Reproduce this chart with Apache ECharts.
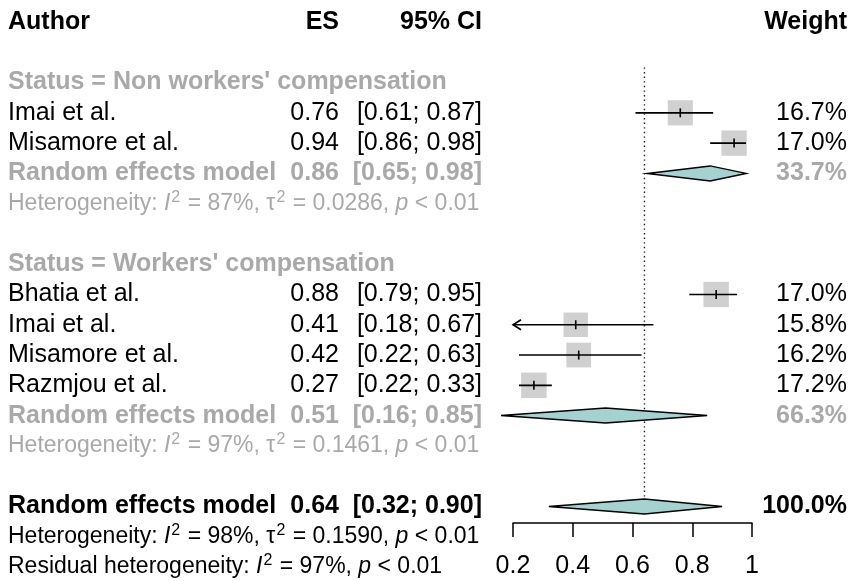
<!DOCTYPE html>
<html>
<head>
<meta charset="utf-8">
<script src="https://cdn.jsdelivr.net/npm/echarts@6/dist/echarts.min.js"></script>
<style>
  html, body { margin: 0; padding: 0; background: #ffffff; }
  #chart { width: 851px; height: 581px; }
</style>
</head>
<body>
<div id="chart"></div>
<script>
// ---- Data ----------------------------------------------------------------
const headers = ['Author', 'ES', '95% CI', 'Weight'];
const groupTitles = ["Status = Non workers' compensation", "Status = Workers' compensation"];

const studyNames  = ['Imai et al.', 'Misamore et al.', 'Bhatia et al.', 'Imai et al.', 'Misamore et al.', 'Razmjou et al.'];
const studyGroup  = [0, 0, 1, 1, 1, 1];
const studyES     = [0.76, 0.94, 0.88, 0.41, 0.42, 0.27];
const studyLower  = [0.61, 0.86, 0.79, 0.18, 0.22, 0.22];
const studyUpper  = [0.87, 0.98, 0.95, 0.67, 0.63, 0.33];
const studyWeight = [16.7, 17.0, 17.0, 15.8, 16.2, 17.2];

const subgroupES     = [0.86, 0.51];
const subgroupLower  = [0.65, 0.16];
const subgroupUpper  = [0.98, 0.85];
const subgroupWeight = [33.7, 66.3];
const subgroupI2     = [87, 97];
const subgroupTau2   = ['0.0286', '0.1461'];

const overallES = [0.64];
const overallLower = [0.32];
const overallUpper = [0.90];
const overallWeight = [100.0];
const overallI2 = [98];
const overallTau2 = ['0.1590'];
const residualI2 = [97];
const pValueText = '< 0.01';

const xTicks = [0.2, 0.4, 0.6, 0.8, 1];

// ---- Row layout ----------------------------------------------------------
const rows = [];
rows.push({ type: 'header' });
rows.push({ type: 'blank' });
const studyRow = [];
groupTitles.forEach((title, g) => {
  rows.push({ type: 'title', g });
  studyNames.forEach((n, i) => {
    if (studyGroup[i] === g) { studyRow[i] = rows.length; rows.push({ type: 'study', i }); }
  });
  rows.push({ type: 'pooled', g });
  rows.push({ type: 'het', g });
  rows.push({ type: 'blank' });
});
const overallRow = rows.length;
rows.push({ type: 'overall' });
rows.push({ type: 'overallHet' });
rows.push({ type: 'residual' });
const lastRow = rows.length - 1;

const subgroupRow = rows.map((r, k) => r.type === 'pooled' ? k : -1).filter(k => k >= 0);

// ---- Styling -------------------------------------------------------------
const FONT = "'Liberation Sans', Arial, Helvetica, sans-serif";
const BLACK = '#000000';
const GRAY = '#A9A9A9';
const FS = 25;       // main text size
const FS_HET = 23;   // heterogeneity text size
const colAuthor = 8, colES = 339, colCI = 482, colWeight = 847;

const fmt2 = v => v.toFixed(2);
const ciText = (lo, hi) => '[' + fmt2(lo) + '; ' + fmt2(hi) + ']';
const wText = w => w.toFixed(1) + '%';

function richFor(color) {
  return {
    it:  { fontStyle: 'italic', fontSize: FS_HET, fontFamily: FONT, fill: color },
    sup: { fontSize: 16, fontFamily: FONT, fill: color, padding: [0, 1, 12, 1] }
  };
}
function hetString(i2, tau2) {
  return 'Heterogeneity: {it|I}{sup|2} = ' + i2 + '%, \u03c4{sup|2} = ' + tau2 + ', {it|p} ' + pValueText;
}
function residualString(i2) {
  return 'Residual heterogeneity: {it|I}{sup|2} = ' + i2 + '%, {it|p} ' + pValueText;
}

function txt(x, y, text, opt) {
  return {
    type: 'text',
    x: x, y: y,
    style: Object.assign({
      text: text,
      fontFamily: FONT,
      fontSize: FS,
      fill: BLACK,
      align: 'left',
      verticalAlign: 'middle'
    }, opt || {})
  };
}

function renderTextRow(params, api) {
  const r = rows[params.dataIndex];
  const y = api.coord([xTicks[0], params.dataIndex])[1];
  const kids = [];
  const bold = { fontWeight: 'bold' };
  switch (r.type) {
    case 'header':
      kids.push(txt(colAuthor, y, headers[0], bold));
      kids.push(txt(colES, y, headers[1], Object.assign({ align: 'right' }, bold)));
      kids.push(txt(colCI, y, headers[2], Object.assign({ align: 'right' }, bold)));
      kids.push(txt(colWeight, y, headers[3], Object.assign({ align: 'right' }, bold)));
      break;
    case 'title':
      kids.push(txt(colAuthor, y, groupTitles[r.g], { fontWeight: 'bold', fill: GRAY }));
      break;
    case 'study': {
      const i = r.i;
      kids.push(txt(colAuthor, y, studyNames[i]));
      kids.push(txt(colES, y, fmt2(studyES[i]), { align: 'right' }));
      kids.push(txt(colCI, y, ciText(studyLower[i], studyUpper[i]), { align: 'right' }));
      kids.push(txt(colWeight, y, wText(studyWeight[i]), { align: 'right' }));
      break;
    }
    case 'pooled': {
      const g = r.g, s = { fontWeight: 'bold', fill: GRAY };
      kids.push(txt(colAuthor, y, 'Random effects model', s));
      kids.push(txt(colES, y, fmt2(subgroupES[g]), Object.assign({ align: 'right' }, s)));
      kids.push(txt(colCI, y, ciText(subgroupLower[g], subgroupUpper[g]), Object.assign({ align: 'right' }, s)));
      kids.push(txt(colWeight, y, wText(subgroupWeight[g]), Object.assign({ align: 'right' }, s)));
      break;
    }
    case 'het':
      kids.push(txt(colAuthor, y, hetString(subgroupI2[r.g], subgroupTau2[r.g]),
        { fontSize: FS_HET, fill: GRAY, rich: richFor(GRAY) }));
      break;
    case 'overall': {
      const s = { fontWeight: 'bold' };
      kids.push(txt(colAuthor, y, 'Random effects model', s));
      kids.push(txt(colES, y, fmt2(overallES[0]), Object.assign({ align: 'right' }, s)));
      kids.push(txt(colCI, y, ciText(overallLower[0], overallUpper[0]), Object.assign({ align: 'right' }, s)));
      kids.push(txt(colWeight, y, wText(overallWeight[0]), Object.assign({ align: 'right' }, s)));
      break;
    }
    case 'overallHet':
      kids.push(txt(colAuthor, y, hetString(overallI2[0], overallTau2[0]),
        { fontSize: FS_HET, rich: richFor(BLACK) }));
      break;
    case 'residual':
      kids.push(txt(colAuthor, y, residualString(residualI2[0]),
        { fontSize: FS_HET, rich: richFor(BLACK) }));
      break;
  }
  return { type: 'group', children: kids };
}

const xMin = xTicks[0], xMax = xTicks[xTicks.length - 1];

function renderStudy(params, api) {
  const es = api.value(0), lo = api.value(1), hi = api.value(2), row = api.value(3), w = api.value(4);
  const c = api.coord([es, row]);
  const pl = api.coord([Math.max(lo, xMin), row]);
  const ph = api.coord([Math.min(hi, xMax), row]);
  const side = 25.5 * Math.sqrt(w / 17.2);
  const kids = [
    { type: 'rect', shape: { x: c[0] - side / 2, y: c[1] - side / 2, width: side, height: side },
      style: { fill: '#D0D0D0' } },
    { type: 'line', shape: { x1: pl[0], y1: c[1], x2: ph[0], y2: c[1] },
      style: { stroke: BLACK, lineWidth: 1.6 } },
    { type: 'line', shape: { x1: c[0], y1: c[1] - 4.5, x2: c[0], y2: c[1] + 4.5 },
      style: { stroke: BLACK, lineWidth: 1.6 } }
  ];
  if (lo < xMin) {
    kids.push({ type: 'polyline',
      shape: { points: [[pl[0] + 8, c[1] - 5], [pl[0], c[1]], [pl[0] + 8, c[1] + 5]] },
      style: { stroke: BLACK, lineWidth: 1.6, fill: null } });
  }
  return { type: 'group', children: kids };
}

function renderDiamond(params, api) {
  const es = api.value(0), lo = api.value(1), hi = api.value(2), row = api.value(3);
  const c = api.coord([es, row]);
  const pl = api.coord([lo, row]);
  const ph = api.coord([hi, row]);
  const h = 7.5;
  return {
    type: 'polygon',
    shape: { points: [[pl[0], c[1]], [c[0], c[1] - h], [ph[0], c[1]], [c[0], c[1] + h]] },
    style: { fill: '#A3D2D0', stroke: BLACK, lineWidth: 1.5 }
  };
}

function renderRefLine(params, api) {
  const a = api.coord([api.value(0), api.value(1)]);
  const b = api.coord([api.value(0), api.value(2)]);
  return {
    type: 'line',
    shape: { x1: a[0], y1: a[1], x2: b[0], y2: b[1] },
    style: { stroke: '#222222', lineWidth: 1.4, lineDash: [1.4, 3.2] }
  };
}

const studyData = studyES.map((e, i) => [e, studyLower[i], studyUpper[i], studyRow[i], studyWeight[i]]);
const diamondData = subgroupES.map((e, g) => [e, subgroupLower[g], subgroupUpper[g], subgroupRow[g]])
  .concat([[overallES[0], overallLower[0], overallUpper[0], overallRow]]);

const chart = echarts.init(document.getElementById('chart'), null, { renderer: 'canvas' });
chart.setOption({
  animation: false,
  backgroundColor: '#ffffff',
  grid: { left: 513, right: 99, top: 22, bottom: 14, containLabel: false },
  xAxis: {
    type: 'value',
    min: xMin, max: xMax, interval: 0.2,
    offset: -44,
    axisLine: { show: true, onZero: false, lineStyle: { color: BLACK, width: 1.5 } },
    axisTick: { show: true, length: 14, lineStyle: { color: BLACK, width: 1.5 } },
    axisLabel: {
      show: true, margin: 31, color: BLACK, fontSize: FS, fontFamily: FONT,
      showMinLabel: true, showMaxLabel: true,
      formatter: v => String(parseFloat(v.toFixed(1)))
    },
    splitLine: { show: false }
  },
  yAxis: { type: 'value', min: 0, max: lastRow, inverse: true, show: false },
  series: [
    { type: 'custom', name: 'reference', renderItem: renderRefLine, clip: false,
      data: [[overallES[0], 1.5, overallRow]], encode: { x: 0, y: 1 }, silent: true },
    { type: 'custom', name: 'studies', renderItem: renderStudy, clip: false,
      data: studyData, encode: { x: 0, y: 3 }, silent: true },
    { type: 'custom', name: 'pooled', renderItem: renderDiamond, clip: false,
      data: diamondData, encode: { x: 0, y: 3 }, silent: true },
    { type: 'custom', name: 'table', renderItem: renderTextRow, clip: false,
      data: rows.map((r, k) => [xMin, k]), encode: { x: 0, y: 1 }, silent: true }
  ]
});
</script>
</body>
</html>
